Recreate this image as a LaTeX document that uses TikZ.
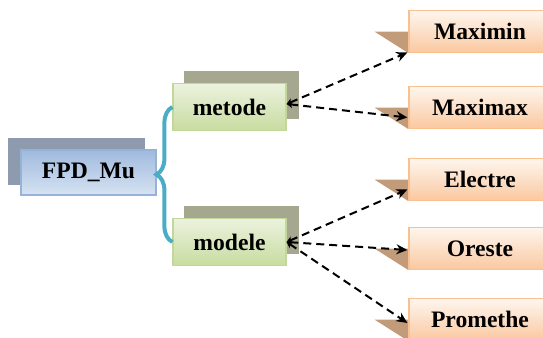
\documentclass[tikz,border=0pt]{standalone}
\usepackage{fontspec}
\setmainfont{Liberation Serif}
\usepackage{tikz}
\usetikzlibrary{positioning,calc,backgrounds,decorations.pathreplacing,arrows.meta}
\definecolor{BraceBlue}{RGB}{75,172,198}
\definecolor{RootTop}{RGB}{160,186,222}
\definecolor{RootBot}{RGB}{214,227,242}
\definecolor{RootLine}{RGB}{149,179,215}
\definecolor{RootBack}{RGB}{142,154,174}
\definecolor{MidTop}{RGB}{236,242,222}
\definecolor{MidBot}{RGB}{200,220,160}
\definecolor{MidLine}{RGB}{195,214,155}
\definecolor{MidBack}{RGB}{165,168,142}
\definecolor{LeafTop}{RGB}{254,246,238}
\definecolor{LeafBot}{RGB}{250,200,160}
\definecolor{LeafLine}{RGB}{250,192,144}
\definecolor{LeafTab}{RGB}{194,155,122}
\tikzset{
    boxfont/.style={font=\fontsize{11.8}{13}\selectfont\bfseries, text=black},
    rootnode/.style={boxfont, rectangle, draw=RootLine, top color=RootTop, bottom color=RootBot, line width=0.6pt, minimum width=67.5pt, minimum height=22.5pt, inner sep=0pt},
    midnode/.style={boxfont, rectangle, draw=MidLine, top color=MidTop, bottom color=MidBot, line width=0.6pt, minimum width=56.5pt, minimum height=23.5pt, inner sep=0pt},
    leafnode/.style={boxfont, rectangle, draw=LeafLine, top color=LeafTop, bottom color=LeafBot, line width=0.6pt, minimum width=71pt, minimum height=21pt, inner sep=0pt}
}

\begin{document}
\begin{tikzpicture}[
    x=0.5pt, y=-0.5pt,
    % nep gap
    bracestyle/.style={draw=BraceBlue, line width=2pt, decorate, decoration={brace, amplitude=8pt}},
    % mui ten net dut
    linkarrow/.style={
        {Stealth[length=3pt,width=3.5pt]}-{Stealth[length=5.5pt,width=5pt]},
        line width=1pt,
        dash pattern=on 4pt off 2.5pt
    }
]
    \clip (0,0) rectangle (543,338);

    % --- CAC NUT ---
    \node[rootnode] (fpd) at (88.5,172.5) {FPD\_Mu};
    \node[midnode] (metode) at (229.5,107) {metode};
    \node[midnode] (modele) at (229.5,242) {modele};

    \node[leafnode] (maximin) at (480,31.5) {Maximin};
    \node[leafnode] (maximax) at (480,107.5) {Maximax};
    \node[leafnode] (electre) at (480,179.5) {Electre};
    \node[leafnode] (oreste) at (480,248.5) {Oreste};
    \node[leafnode] (promethe) at (480,319.5) {Promethe};

    % --- BONG PHIA SAU ---
    \begin{scope}[on background layer]
        \fill[RootBack] ($(fpd.north west)+(-12,-11)$) rectangle ($(fpd.south east)+(-12,-11)$);
        \fill[MidBack] ($(metode.north west)+(12,-12)$) rectangle ($(metode.south east)+(12,-12)$);
        \fill[MidBack] ($(modele.north west)+(12,-12)$) rectangle ($(modele.south east)+(12,-12)$);
        \foreach \leaf in {maximin,maximax,electre,oreste,promethe}
            \fill[LeafTab] ($(\leaf.west)+(-34,0)$) -- (\leaf.west) -- (\leaf.south west) -- cycle;
    \end{scope}

    % --- NGOAC ---
    \draw[bracestyle] (modele.west) -- (metode.west);

    % --- MUI TEN ---
    \foreach \dst/\dy in {maximin/21, maximax/10}
        \draw[linkarrow] ($(metode.east)+(0,-3)$) -- ($(\dst.west)+(-1,\dy)$);
    \foreach \dst/\dy in {electre/10, oreste/1.5, promethe/3.5}
        \draw[linkarrow] (modele.east) -- ($(\dst.west)+(-1,\dy)$);
\end{tikzpicture}
\end{document}
